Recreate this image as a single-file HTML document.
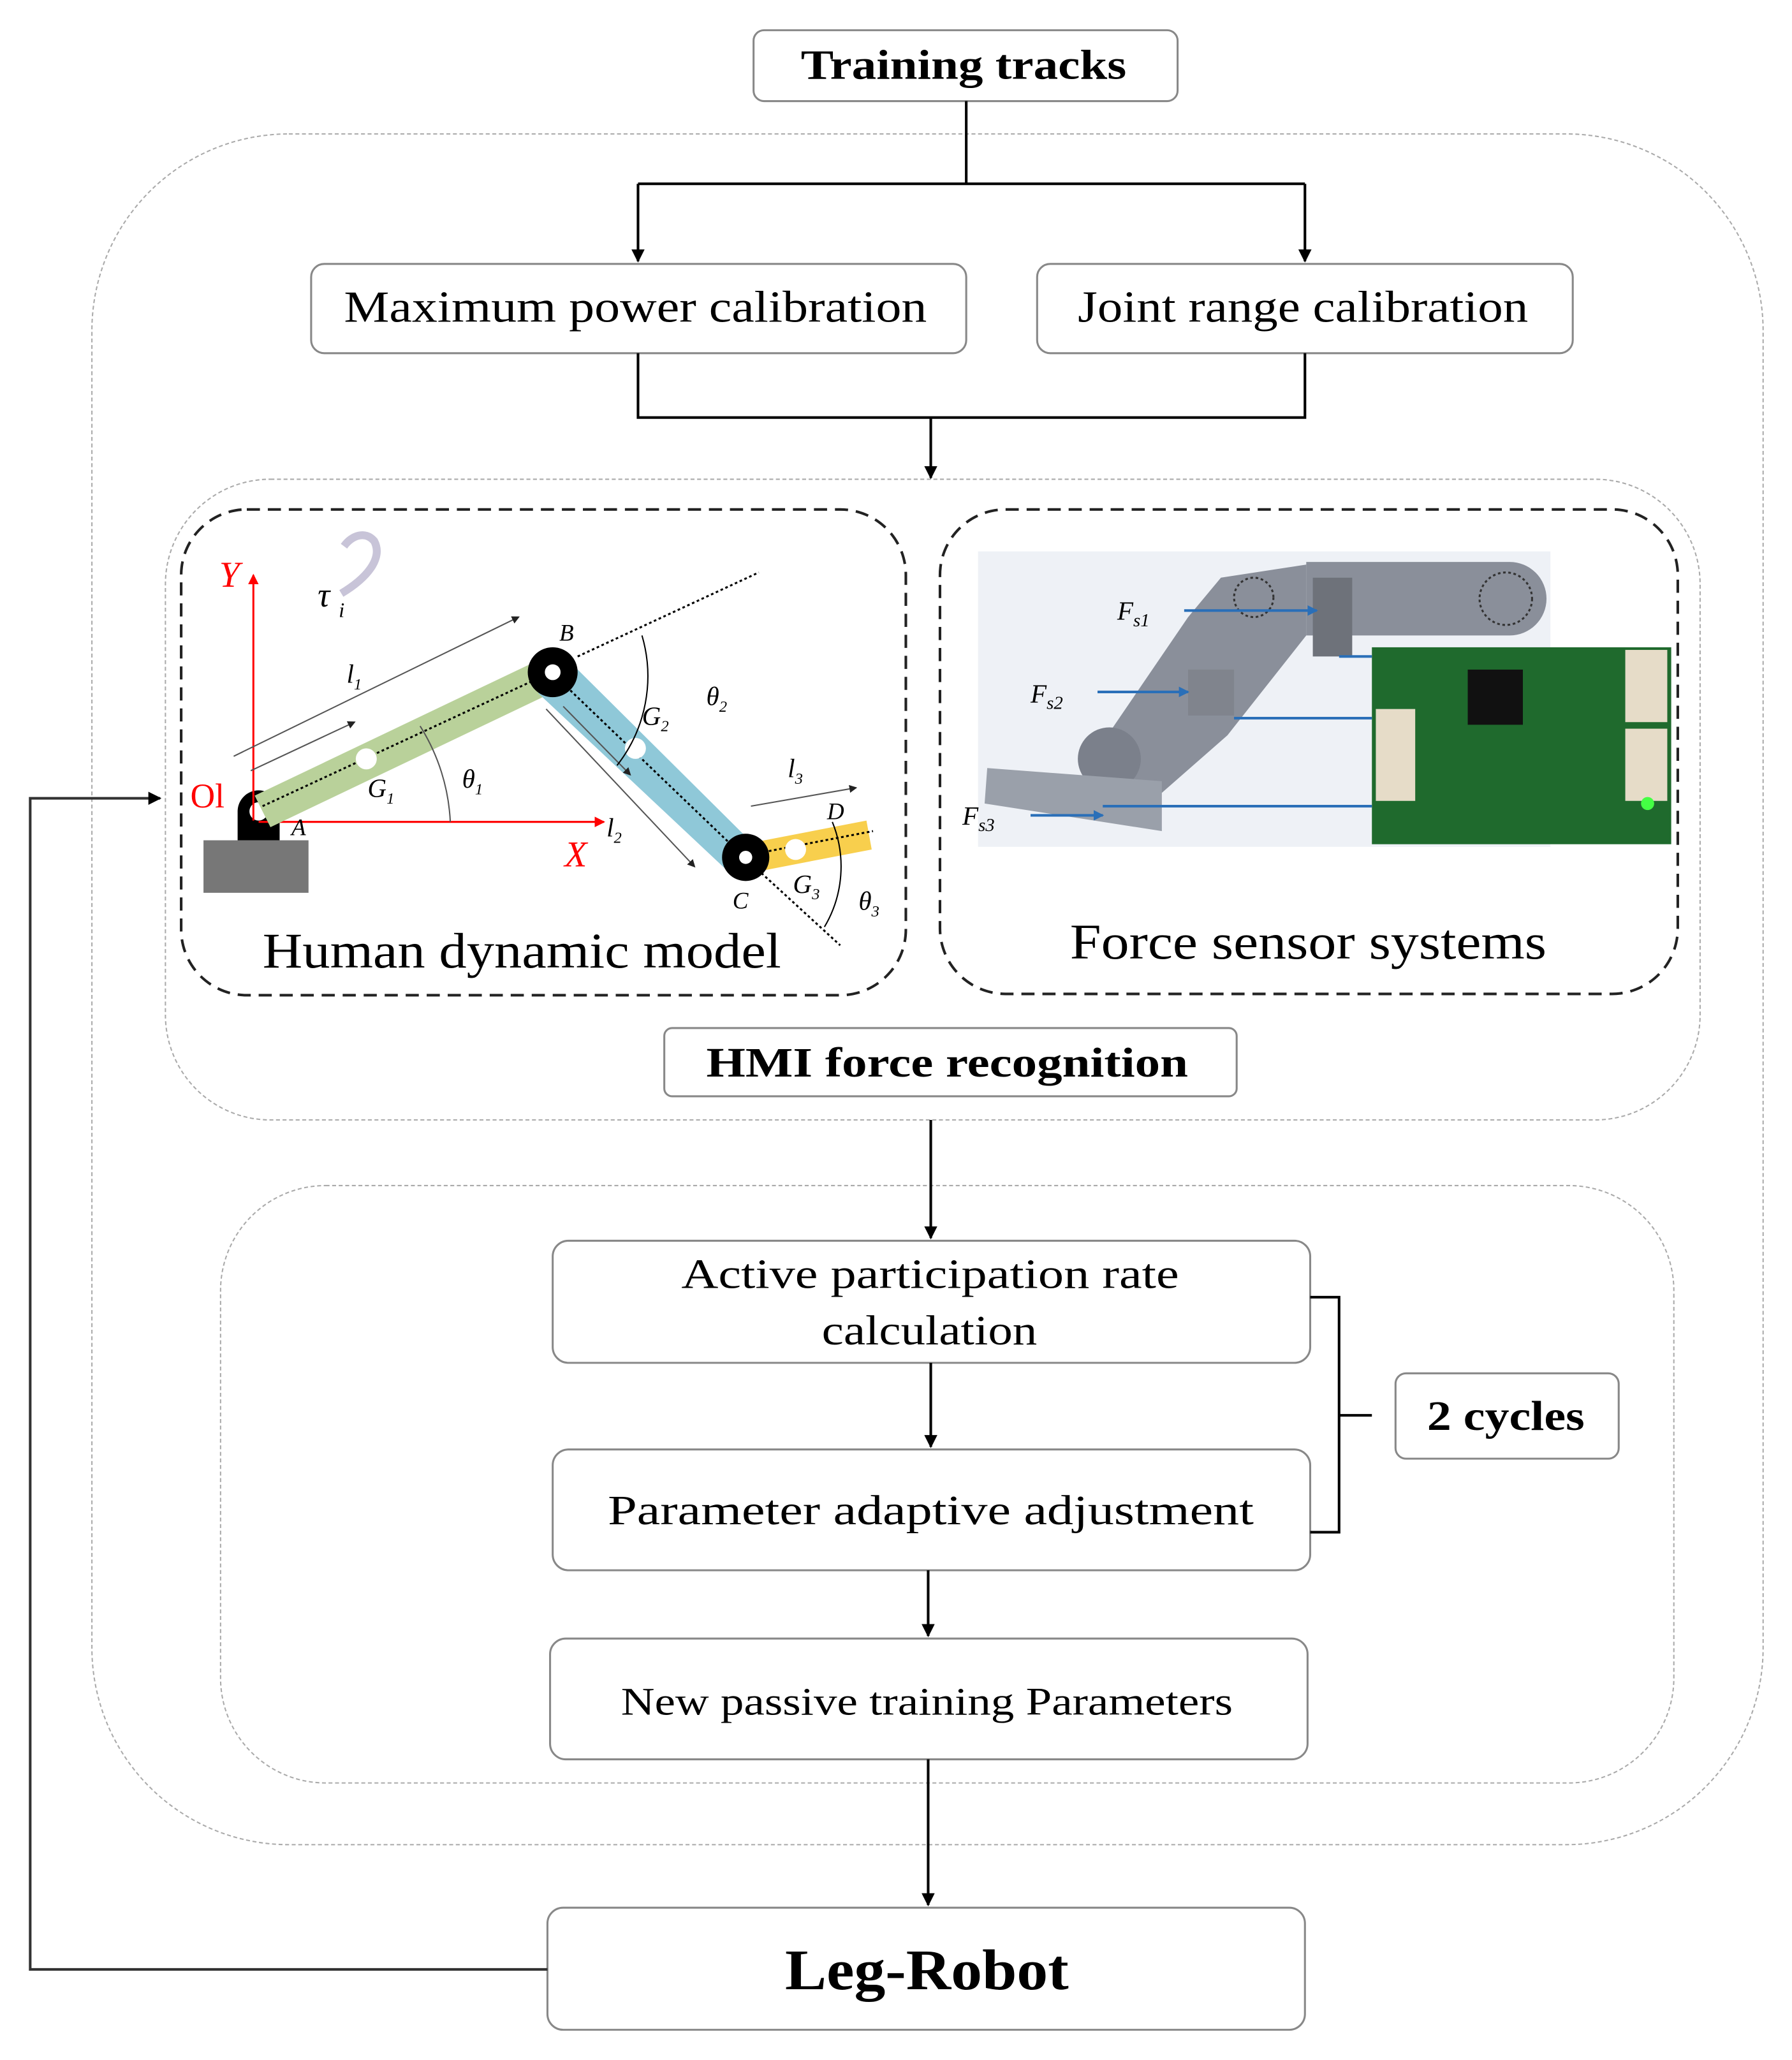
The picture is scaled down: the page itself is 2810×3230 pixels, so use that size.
<!DOCTYPE html>
<html><head><meta charset="utf-8"><style>html,body{margin:0;padding:0;background:#fff}svg{display:block}</style></head>
<body>
<svg width="2810" height="3230" viewBox="0 0 1365 1569" xmlns="http://www.w3.org/2000/svg" font-family="Liberation Serif, serif">
<defs>
<marker id="ar" markerWidth="10" markerHeight="10" refX="9" refY="5" orient="auto" markerUnits="userSpaceOnUse"><path d="M0,0 L10,5 L0,10 z" fill="#000"/></marker>
<marker id="sa" markerWidth="6" markerHeight="6" refX="5" refY="3" orient="auto" markerUnits="userSpaceOnUse"><path d="M0,0 L6,3 L0,6 z" fill="#222"/></marker>
<marker id="ra" markerWidth="8" markerHeight="8" refX="7" refY="4" orient="auto" markerUnits="userSpaceOnUse"><path d="M0,0 L8,4 L0,8 z" fill="#f00"/></marker>
<marker id="ba" markerWidth="8" markerHeight="8" refX="7" refY="4" orient="auto" markerUnits="userSpaceOnUse"><path d="M0,0 L8,4 L0,8 z" fill="#2a6fb8"/></marker>
</defs>
<rect width="1365" height="1569" fill="#fff"/>
<rect x="70" y="102" width="1273" height="1303" rx="150" fill="none" stroke="#aaa" stroke-width="1" stroke-dasharray="3,2"/>
<rect x="126" y="365" width="1169" height="488" rx="80" fill="none" stroke="#aaa" stroke-width="1" stroke-dasharray="3,2"/>
<rect x="168" y="903" width="1107" height="455" rx="80" fill="none" stroke="#aaa" stroke-width="1" stroke-dasharray="3,2"/>
<rect x="138" y="388" width="552" height="370" rx="50" fill="none" stroke="#222" stroke-width="2" stroke-dasharray="10,6"/>
<rect x="716" y="388" width="562" height="369" rx="50" fill="none" stroke="#222" stroke-width="2" stroke-dasharray="10,6"/>
<g fill="#fff" stroke="#888" stroke-width="1.5">
<rect x="574" y="23" width="323" height="54" rx="8"/>
<rect x="237" y="201" width="499" height="68" rx="10"/>
<rect x="790" y="201" width="408" height="68" rx="10"/>
<rect x="506" y="783" width="436" height="52" rx="6"/>
<rect x="421" y="945" width="577" height="93" rx="12"/>
<rect x="421" y="1104" width="577" height="92" rx="12"/>
<rect x="419" y="1248" width="577" height="92" rx="12"/>
<rect x="1063" y="1046" width="170" height="65" rx="8"/>
<rect x="417" y="1453" width="577" height="93" rx="12"/>
</g>
<g fill="#000" lengthAdjust="spacingAndGlyphs">
<text x="610" y="60" font-size="32" font-weight="bold" textLength="248" lengthAdjust="spacingAndGlyphs">Training tracks</text>
<text x="262" y="245" font-size="34" textLength="444" lengthAdjust="spacingAndGlyphs">Maximum power  calibration</text>
<text x="821" y="245" font-size="34" textLength="343" lengthAdjust="spacingAndGlyphs">Joint range calibration</text>
<text x="538" y="820" font-size="32" font-weight="bold" textLength="367" lengthAdjust="spacingAndGlyphs">HMI force recognition</text>
<text x="519" y="981" font-size="32" textLength="379" lengthAdjust="spacingAndGlyphs">Active  participation  rate</text>
<text x="626" y="1024" font-size="32" textLength="164" lengthAdjust="spacingAndGlyphs">calculation</text>
<text x="463" y="1161" font-size="32" textLength="492" lengthAdjust="spacingAndGlyphs">Parameter  adaptive  adjustment</text>
<text x="473" y="1306" font-size="30" textLength="466" lengthAdjust="spacingAndGlyphs">New passive training  Parameters</text>
<text x="1087" y="1089" font-size="32" font-weight="bold" textLength="120" lengthAdjust="spacingAndGlyphs">2 cycles</text>
<text x="598" y="1515" font-size="44" font-weight="bold" textLength="216" lengthAdjust="spacingAndGlyphs">Leg-Robot</text>
<text x="200" y="737" font-size="38" textLength="395" lengthAdjust="spacingAndGlyphs">Human dynamic model</text>
<text x="815" y="730" font-size="38" textLength="363" lengthAdjust="spacingAndGlyphs">Force sensor systems</text>
</g>
<g stroke="#000" stroke-width="2" fill="none">
<path d="M736,77 V140 M486,140 H994"/>
<path d="M486,140 V199" marker-end="url(#ar)"/>
<path d="M994,140 V199" marker-end="url(#ar)"/>
<path d="M486,269 V318 H994 V269 M709,318 V364" marker-end="url(#ar)"/>
<path d="M709,853 V943" marker-end="url(#ar)"/>
<path d="M709,1038 V1102" marker-end="url(#ar)"/>
<path d="M707,1196 V1246" marker-end="url(#ar)"/>
<path d="M707,1340 V1451" marker-end="url(#ar)"/>
<path d="M998,988 H1020 V1167 H998 M1020,1078 H1045"/>
</g>
<path d="M417,1500 H23 V608 H122" stroke="#333" stroke-width="2" fill="none" marker-end="url(#ar)"/>
<rect x="155" y="640" width="80" height="40" fill="#777"/>
<path d="M181,640 V618 A16,16 0 0 1 213,618 V640 z" fill="#000"/>
<circle cx="197" cy="618" r="7" fill="#fff"/>
<line x1="193" y1="625" x2="193" y2="438" stroke="#f00" stroke-width="1.5" marker-end="url(#ra)"/>
<line x1="197" y1="626" x2="460" y2="626" stroke="#f00" stroke-width="1.5" marker-end="url(#ra)"/>
<text x="167" y="447" fill="#f00" font-size="28" font-style="italic">Y</text>
<text x="430" y="660" fill="#f00" font-size="28" font-style="italic">X</text>
<text x="145" y="615" fill="#f00" font-size="26">Ol</text>
<text x="222" y="636" font-size="18" font-style="italic">A</text>
<polygon points="194,606 416,500 428,524 206,630" fill="#b9d19a"/>
<polygon points="410,528 430,500 576,645 556,665" fill="#8fc8d8"/>
<polygon points="572,642 660,625 664,647 576,664" fill="#f8cf4d"/>
<g stroke="#000" stroke-width="1.5" stroke-dasharray="2,2" fill="none">
<line x1="200" y1="614" x2="420" y2="512"/>
<line x1="420" y1="512" x2="566" y2="652"/>
<line x1="566" y1="652" x2="665" y2="633"/>
<line x1="440" y1="500" x2="578" y2="436"/>
<line x1="580" y1="665" x2="640" y2="720"/>
</g>
<circle cx="421" cy="512" r="19" fill="#000"/><circle cx="421" cy="512" r="6" fill="#fff"/>
<circle cx="568" cy="653" r="18" fill="#000"/><circle cx="568" cy="653" r="5" fill="#fff"/>
<circle cx="279" cy="578" r="8" fill="#fff"/>
<circle cx="484" cy="570" r="8" fill="#fff"/>
<circle cx="606" cy="647" r="8" fill="#fff"/>
<g stroke="#555" stroke-width="1" fill="none">
<line x1="178" y1="576" x2="395" y2="470" marker-end="url(#sa)"/>
<line x1="191" y1="587" x2="270" y2="550" marker-end="url(#sa)"/>
<line x1="416" y1="540" x2="529" y2="660" marker-end="url(#sa)"/>
<line x1="429" y1="538" x2="480" y2="590" marker-end="url(#sa)"/>
<line x1="572" y1="614" x2="652" y2="600" marker-end="url(#sa)"/>
<path d="M343,626 A150,150 0 0 0 320,553"/>
<path d="M470,583 A110,110 0 0 0 489,484" stroke="#000"/>
<path d="M628,706 A90,90 0 0 0 634,626" stroke="#000"/>
</g>
<path d="M260,452 C280,440 292,425 285,412 C278,404 268,408 262,416" fill="none" stroke="#c8c4d8" stroke-width="6"/>
<g font-style="italic" font-size="20" fill="#000">
<text x="242" y="462" font-size="26">τ</text><text x="258" y="470" font-size="16">i</text>
<text x="264" y="520">l<tspan font-size="12" dy="5">1</tspan></text>
<text x="426" y="488" font-size="18">B</text>
<text x="280" y="607">G<tspan font-size="12" dy="5">1</tspan></text>
<text x="352" y="600">θ<tspan font-size="12" dy="5">1</tspan></text>
<text x="489" y="552">G<tspan font-size="12" dy="5">2</tspan></text>
<text x="538" y="537">θ<tspan font-size="12" dy="5">2</tspan></text>
<text x="462" y="637">l<tspan font-size="12" dy="5">2</tspan></text>
<text x="600" y="592">l<tspan font-size="12" dy="5">3</tspan></text>
<text x="630" y="624" font-size="18">D</text>
<text x="558" y="692" font-size="18">C</text>
<text x="604" y="680">G<tspan font-size="12" dy="5">3</tspan></text>
<text x="654" y="693">θ<tspan font-size="12" dy="5">3</tspan></text>
</g>
<rect x="745" y="420" width="436" height="225" fill="#eef1f6"/>
<path d="M995,428 H1150 A28,28 0 0 1 1150,484 H995 z" fill="#8a8f9a"/>
<path d="M930,440 L995,430 L995,484 L935,560 L878,610 L838,600 L830,580 L905,470 z" fill="#8a8f9a"/>
<circle cx="845" cy="578" r="24" fill="#7b808b"/>
<polygon points="752,585 885,595 885,633 750,612" fill="#9aa0aa"/>
<rect x="1000" y="440" width="30" height="60" fill="#6e727a"/>
<rect x="905" y="510" width="35" height="35" fill="#80848d"/>
<circle cx="955" cy="455" r="15" fill="none" stroke="#333" stroke-width="1.5" stroke-dasharray="2,2"/>
<circle cx="1147" cy="456" r="20" fill="none" stroke="#333" stroke-width="1.5" stroke-dasharray="2,2"/>
<rect x="1045" y="493" width="228" height="150" fill="#1f6a2d"/>
<rect x="1118" y="510" width="42" height="42" fill="#111"/>
<rect x="1048" y="540" width="30" height="70" fill="#e6dcc8"/>
<rect x="1238" y="495" width="32" height="55" fill="#e6dcc8"/>
<rect x="1238" y="555" width="32" height="55" fill="#e6dcc8"/>
<circle cx="1255" cy="612" r="5" fill="#4f4"/>
<g stroke="#2a6fb8" stroke-width="2" fill="none">
<line x1="902" y1="465" x2="1003" y2="465" marker-end="url(#ba)"/>
<line x1="836" y1="527" x2="905" y2="527" marker-end="url(#ba)"/>
<line x1="785" y1="621" x2="840" y2="621" marker-end="url(#ba)"/>
<line x1="1020" y1="500" x2="1045" y2="500"/>
<line x1="940" y1="547" x2="1045" y2="547"/>
<line x1="840" y1="614" x2="1045" y2="614"/>
</g>
<g font-style="italic" font-size="20" fill="#000">
<text x="851" y="472">F<tspan font-size="14" dy="5">s1</tspan></text>
<text x="785" y="535">F<tspan font-size="14" dy="5">s2</tspan></text>
<text x="733" y="628">F<tspan font-size="14" dy="5">s3</tspan></text>
</g>
</svg>
</body></html>
